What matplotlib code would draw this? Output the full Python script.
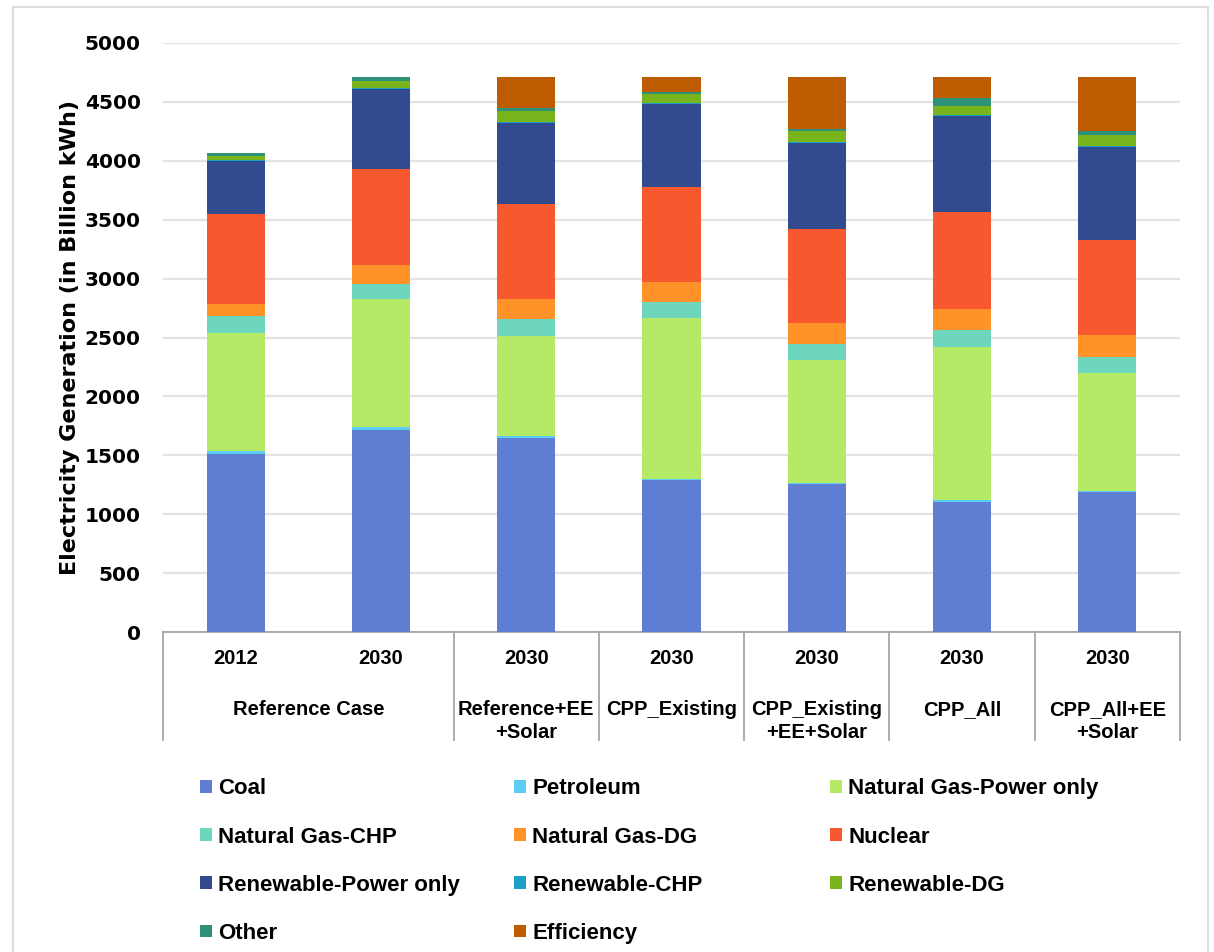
import matplotlib
matplotlib.use("Agg")
import matplotlib.pyplot as plt
from matplotlib.lines import Line2D
import numpy as np

# Scenario axis labels
years = ["2012", "2030", "2030", "2030", "2030", "2030", "2030"]
groups = ["Reference Case", "Reference+EE\n+Solar", "CPP_Existing",
          "CPP_Existing\n+EE+Solar", "CPP_All", "CPP_All+EE\n+Solar"]

# Generation by source (billion kWh), one value per bar
coal = [1515, 1712, 1650, 1288, 1254, 1100, 1188]
petroleum = [25, 25, 17, 12, 12, 20, 12]
ng_power = [1000, 1087, 846, 1363, 1043, 1302, 999]
ng_chp = [141, 128, 141, 141, 136, 142, 138]
ng_dg = [100, 161, 170, 170, 175, 181, 184]
nuclear = [764, 817, 807, 806, 801, 818, 804]
ren_power = [456, 677, 687, 700, 727, 820, 789]
ren_chp = [8, 12, 12, 10, 10, 10, 10]
ren_dg = [33, 61, 95, 75, 95, 75, 95]
other = [22, 32, 20, 17, 17, 62, 31]
efficiency = [0, 0, 267, 130, 442, 182, 462]

series = [
    ("Coal", coal, "#5F7ED3"),
    ("Petroleum", petroleum, "#5CCCF2"),
    ("Natural Gas-Power only", ng_power, "#B4EA66"),
    ("Natural Gas-CHP", ng_chp, "#6DD6BD"),
    ("Natural Gas-DG", ng_dg, "#FF9228"),
    ("Nuclear", nuclear, "#F8582E"),
    ("Renewable-Power only", ren_power, "#324B8F"),
    ("Renewable-CHP", ren_chp, "#1BA1C9"),
    ("Renewable-DG", ren_dg, "#79B41C"),
    ("Other", other, "#2E9278"),
    ("Efficiency", efficiency, "#BD5C00"),
]

W, H = 1214, 952
fig = plt.figure(figsize=(W / 100, H / 100), dpi=100)
ax = fig.add_axes([163 / W, 1 - 632 / H, (1180 - 163) / W, (632 - 43) / H])

x = np.arange(len(years))
bottom = np.zeros(len(years))
handles = {}
for name, vals, col in series:
    v = np.array(vals, dtype=float)
    b = ax.bar(x, v, 0.4, bottom=bottom, color=col, edgecolor="none",
               label=name, zorder=3)
    handles[name] = b
    bottom += v

ax.set_xlim(-0.5, 6.5)
ax.set_ylim(0, 5000)
ax.set_yticks(np.arange(0, 5001, 500))
ax.yaxis.grid(True, color="#E3E3E3", linewidth=1.6, zorder=0)
ax.set_axisbelow(True)
for s in ["left", "right", "top"]:
    ax.spines[s].set_visible(False)
ax.spines["bottom"].set_color("#A6A6A6")
ax.spines["bottom"].set_linewidth(1.3)
ax.tick_params(axis="y", length=0, pad=16, labelsize=14.5)
for t in ax.get_yticklabels():
    t.set_fontweight("bold")
    t.set_fontfamily("DejaVu Sans")
ax.set_xticks([])

ax.set_ylabel("Electricity Generation (in Billion kWh)", fontsize=16,
              fontweight="bold", family="DejaVu Sans")
ax.yaxis.set_label_coords(-(163 - 80) / 1017, 0.5)

# Category box below the axis
font = dict(family="Liberation Sans", fontweight="bold", fontsize=14.5)
trans = ax.get_xaxis_transform()
y_year = -(659 - 632) / 589
y_grp = -(700 - 632) / 589
y_line_end = -(740 - 632) / 589
for xi, yr in zip(x, years):
    ax.text(xi, y_year, yr, transform=trans, ha="center", va="center", **font)
group_centers = [0.5, 2, 3, 4, 5, 6]
for gc, g in zip(group_centers, groups):
    ax.text(gc, y_grp, g, transform=trans, ha="center", va="top",
            linespacing=1.25, **font)
for sx in [-0.5, 1.5, 2.5, 3.5, 4.5, 5.5, 6.5]:
    ax.add_line(Line2D([sx, sx], [0, y_line_end], transform=trans,
                       color="#A6A6A6", lw=1.3, clip_on=False))

# Legend: three columns at fixed positions, filled row by row
columns = [[0, 3, 6, 9], [1, 4, 7, 10], [2, 5, 8]]
col_x = [196, 510, 826]
for cx, idx in zip(col_x, columns):
    fig.legend([handles[series[i][0]] for i in idx],
               [series[i][0] for i in idx], ncol=1, loc="upper left",
               bbox_to_anchor=(cx / W, 1 - 774 / H), frameon=False,
               prop=dict(family="Liberation Sans", weight="bold", size=16),
               handlelength=0.5, handleheight=0.5, handletextpad=0.3,
               labelspacing=1.22, borderaxespad=0, borderpad=0.2)

# Light frame around the chart area
frame_kw = dict(color="#DCDCDC", lw=1.5, transform=fig.transFigure)
fig.add_artist(Line2D([13 / W, 13 / W], [0, 1 - 7 / H], **frame_kw))
fig.add_artist(Line2D([13 / W, 1208 / W], [1 - 7 / H, 1 - 7 / H], **frame_kw))
fig.add_artist(Line2D([1208 / W, 1208 / W], [0, 1 - 7 / H], **frame_kw))

fig.savefig("out.png", dpi=100, facecolor="white")
